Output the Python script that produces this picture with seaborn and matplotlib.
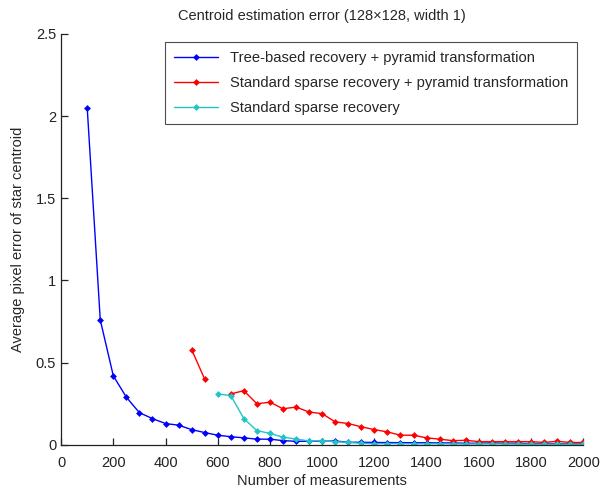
import numpy as np
import pandas as pd
import matplotlib
matplotlib.use('Agg')
import matplotlib.pyplot as plt
import seaborn as sns

# values
tree_x = list(range(100, 2001, 50))
tree_y = [2.05, 0.76, 0.42, 0.29, 0.196, 0.16, 0.13, 0.12, 0.093, 0.075,
          0.059, 0.05, 0.043, 0.035, 0.035, 0.026, 0.022, 0.022, 0.022, 0.024,
          0.016, 0.016, 0.015, 0.014, 0.014, 0.013, 0.013, 0.012, 0.012, 0.01,
          0.01, 0.012, 0.01, 0.01, 0.008, 0.008, 0.008, 0.007, 0.007]

pyr_x = list(range(500, 2001, 50))
pyr_y = [0.58, 0.40, np.nan, 0.31, 0.33, 0.25, 0.26, 0.22, 0.23, 0.20,
         0.19, 0.14, 0.13, 0.11, 0.093, 0.079, 0.059, 0.059, 0.043, 0.035,
         0.026, 0.028, 0.02, 0.02, 0.02, 0.02, 0.02, 0.015, 0.022, 0.015, 0.015]

std_x = list(range(600, 2001, 50))
std_y = [0.31, 0.30, 0.16, 0.087, 0.07, 0.047, 0.036, 0.024, 0.024, 0.02,
         0.015, 0.01, 0.008, 0.008, 0.008, 0.007, 0.007, 0.007, 0.006, 0.006,
         0.006, 0.006, 0.006, 0.005, 0.005, 0.005, 0.005, 0.005, 0.005]

labels = ['Tree-based recovery + pyramid transformation',
          'Standard sparse recovery + pyramid transformation',
          'Standard sparse recovery']
colors = ['#0000ff', '#ff0000', '#22c4c4']

sns.set_style('white')
plt.rcParams['font.family'] = ['Liberation Sans', 'DejaVu Sans']
plt.rcParams['font.size'] = 9

fig = plt.figure(figsize=(6.05, 4.9), dpi=100)
ax = fig.add_axes([0.101, 0.092, 0.863, 0.839])

series = [(tree_x, tree_y), (pyr_x, pyr_y), (std_x, std_y)]
for (xs, ys), lab, col in zip(series, labels, colors):
    df = pd.DataFrame({'x': xs, 'y': ys})
    # break the line where a value is missing
    df['seg'] = df['y'].isna().cumsum()
    df = df.dropna()
    first = True
    for _, part in df.groupby('seg'):
        sns.lineplot(data=part, x='x', y='y', ax=ax, color=col, lw=1,
                     marker='D', markersize=3.5, markeredgewidth=0,
                     label=lab if first else None, legend=False)
        first = False

ax.set_xlim(0, 2000)
ax.set_ylim(0, 2.5)
ax.set_xticks(range(0, 2001, 200))
ax.set_yticks([0, 0.5, 1, 1.5, 2, 2.5])
ax.set_yticklabels(['0', '0.5', '1', '1.5', '2', '2.5'])
ax.tick_params(bottom=True, left=True, direction='in', length=5, width=0.9,
               labelsize=10.5, colors='#222222')
ax.tick_params(axis='x', pad=8)
for s in ['top', 'right']:
    ax.spines[s].set_visible(False)
for s in ['left', 'bottom']:
    ax.spines[s].set_color('#222222')
    ax.spines[s].set_linewidth(0.9)

ax.set_title('Centroid estimation error (128\u00d7128, width 1)', fontsize=10.5, pad=10)
ax.set_xlabel('Number of measurements', fontsize=10.5, labelpad=3)
ax.set_ylabel('Average pixel error of star centroid', fontsize=10.5, labelpad=8)

leg = ax.legend(loc='upper right', bbox_to_anchor=(0.9885, 0.9805), fontsize=10.6,
                frameon=True, fancybox=False, edgecolor='#222222',
                handlelength=3.0, borderpad=0.6, labelspacing=0.75,
                borderaxespad=0)
leg.get_frame().set_linewidth(0.8)

fig.savefig('out.png', dpi=100)
